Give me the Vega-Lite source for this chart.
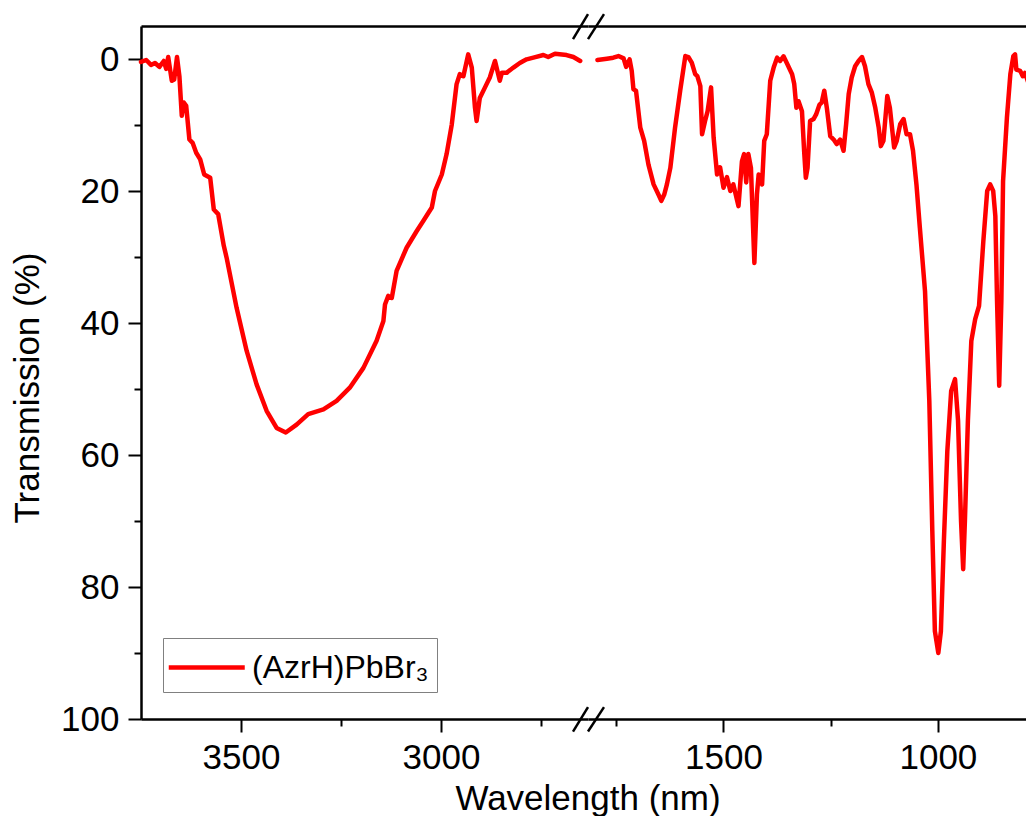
{
  "$schema": "https://vega.github.io/schema/vega-lite/v6.json",
  "background": "white",
  "padding": {"left": 10, "top": 12, "right": 0, "bottom": 0},
  "spacing": 0,
  "bounds": "flush",
  "config": {
    "view": {"stroke": null},
    "font": "Liberation Sans",
    "axis": {
      "domainColor": "black", "domainWidth": 2.5, "tickColor": "black", "tickWidth": 2,
      "labelColor": "black", "titleColor": "black", "labelFont": "Liberation Sans", "titleFont": "Liberation Sans",
      "labelFontSize": 35, "titleFontSize": 35, "titleFontWeight": "normal", "grid": false
    },
    "legend": {
      "labelFont": "Liberation Sans", "labelFontSize": 32, "labelColor": "black", "labelLimit": 500
    }
  },
  "datasets": {
    "L": [
      {"w": 3750, "T": 0.45}, {"w": 3737, "T": 0.15}, {"w": 3725, "T": 0.9}, {"w": 3715, "T": 0.6},
      {"w": 3704, "T": 1.2}, {"w": 3693, "T": 0.3}, {"w": 3687, "T": 1.5}, {"w": 3682, "T": -0.3},
      {"w": 3673, "T": 3.3}, {"w": 3667, "T": 3.1}, {"w": 3660, "T": -0.3}, {"w": 3654, "T": 2.6},
      {"w": 3648, "T": 8.6}, {"w": 3643, "T": 6.6}, {"w": 3637, "T": 7.1}, {"w": 3629, "T": 12.2},
      {"w": 3621, "T": 12.7}, {"w": 3612, "T": 14.2}, {"w": 3602, "T": 15.2}, {"w": 3592, "T": 17.5},
      {"w": 3577, "T": 18.0}, {"w": 3568, "T": 22.8}, {"w": 3557, "T": 23.5}, {"w": 3543, "T": 28.3},
      {"w": 3536, "T": 30.1}, {"w": 3511, "T": 37.7}, {"w": 3486, "T": 44.2}, {"w": 3461, "T": 49.3},
      {"w": 3436, "T": 53.3}, {"w": 3411, "T": 55.9}, {"w": 3388, "T": 56.6}, {"w": 3361, "T": 55.4},
      {"w": 3332, "T": 53.8}, {"w": 3294, "T": 53.1}, {"w": 3261, "T": 51.8}, {"w": 3228, "T": 49.8},
      {"w": 3194, "T": 46.8}, {"w": 3161, "T": 42.7}, {"w": 3144, "T": 39.7}, {"w": 3140, "T": 37.2},
      {"w": 3132, "T": 35.9}, {"w": 3123, "T": 36.2}, {"w": 3111, "T": 32.1}, {"w": 3086, "T": 28.6},
      {"w": 3061, "T": 26.1}, {"w": 3044, "T": 24.5}, {"w": 3023, "T": 22.5}, {"w": 3015, "T": 20.0},
      {"w": 2998, "T": 17.5}, {"w": 2986, "T": 14.4}, {"w": 2973, "T": 9.9}, {"w": 2961, "T": 3.8},
      {"w": 2953, "T": 2.3}, {"w": 2944, "T": 2.6}, {"w": 2932, "T": -0.7}, {"w": 2923, "T": 1.3},
      {"w": 2915, "T": 7.4}, {"w": 2911, "T": 9.4}, {"w": 2903, "T": 5.9}, {"w": 2890, "T": 4.3},
      {"w": 2878, "T": 2.8}, {"w": 2865, "T": 0.3}, {"w": 2853, "T": 3.3}, {"w": 2848, "T": 2.1},
      {"w": 2836, "T": 2.1}, {"w": 2819, "T": 1.3}, {"w": 2803, "T": 0.6}, {"w": 2786, "T": 0.05},
      {"w": 2769, "T": -0.2}, {"w": 2744, "T": -0.6}, {"w": 2732, "T": -0.3}, {"w": 2715, "T": -0.8},
      {"w": 2686, "T": -0.6}, {"w": 2669, "T": -0.3}, {"w": 2652, "T": 0.3}
    ],
    "R": [
      {"w": 1794, "T": 0.15}, {"w": 1772, "T": -0.05}, {"w": 1757, "T": -0.2}, {"w": 1745, "T": -0.45},
      {"w": 1733, "T": -0.1}, {"w": 1727, "T": 1.2}, {"w": 1719, "T": 0.05}, {"w": 1714, "T": 1.8},
      {"w": 1710, "T": 4.6}, {"w": 1704, "T": 4.8}, {"w": 1694, "T": 10.4}, {"w": 1685, "T": 12.4},
      {"w": 1675, "T": 16.0}, {"w": 1663, "T": 19.0}, {"w": 1652, "T": 20.5}, {"w": 1645, "T": 21.5},
      {"w": 1638, "T": 20.5}, {"w": 1632, "T": 19.0}, {"w": 1624, "T": 16.5}, {"w": 1613, "T": 10.4},
      {"w": 1601, "T": 4.8}, {"w": 1589, "T": -0.45}, {"w": 1582, "T": -0.3}, {"w": 1574, "T": 0.55},
      {"w": 1566, "T": 2.3}, {"w": 1561, "T": 2.6}, {"w": 1554, "T": 4.1}, {"w": 1550, "T": 11.4},
      {"w": 1543, "T": 9.4}, {"w": 1537, "T": 7.9}, {"w": 1529, "T": 4.3}, {"w": 1523, "T": 11.9},
      {"w": 1515, "T": 17.5}, {"w": 1508, "T": 16.4}, {"w": 1500, "T": 19.5}, {"w": 1492, "T": 17.9},
      {"w": 1484, "T": 20.0}, {"w": 1477, "T": 19.0}, {"w": 1465, "T": 22.3}, {"w": 1457, "T": 15.5},
      {"w": 1452, "T": 14.4}, {"w": 1447, "T": 18.7}, {"w": 1442, "T": 14.4}, {"w": 1436, "T": 16.5},
      {"w": 1428, "T": 30.9}, {"w": 1422, "T": 20.5}, {"w": 1418, "T": 17.5}, {"w": 1410, "T": 19.0},
      {"w": 1405, "T": 12.4}, {"w": 1399, "T": 11.4}, {"w": 1391, "T": 3.3}, {"w": 1383, "T": 1.3},
      {"w": 1375, "T": -0.2}, {"w": 1368, "T": 0.3}, {"w": 1360, "T": -0.4}, {"w": 1351, "T": 0.8},
      {"w": 1340, "T": 2.3}, {"w": 1335, "T": 3.8}, {"w": 1330, "T": 7.4}, {"w": 1325, "T": 6.4},
      {"w": 1317, "T": 7.9}, {"w": 1312, "T": 13.9}, {"w": 1308, "T": 18.0}, {"w": 1304, "T": 16.5},
      {"w": 1298, "T": 9.4}, {"w": 1290, "T": 9.1}, {"w": 1284, "T": 8.4}, {"w": 1276, "T": 6.9},
      {"w": 1271, "T": 6.6}, {"w": 1265, "T": 4.8}, {"w": 1259, "T": 7.4}, {"w": 1251, "T": 11.7},
      {"w": 1243, "T": 12.2}, {"w": 1236, "T": 12.9}, {"w": 1228, "T": 12.2}, {"w": 1220, "T": 13.9},
      {"w": 1214, "T": 9.9}, {"w": 1208, "T": 5.3}, {"w": 1201, "T": 2.8}, {"w": 1193, "T": 1.1},
      {"w": 1185, "T": 0.3}, {"w": 1177, "T": -0.3}, {"w": 1170, "T": 1.1}, {"w": 1162, "T": 3.8},
      {"w": 1154, "T": 5.1}, {"w": 1146, "T": 7.4}, {"w": 1138, "T": 10.4}, {"w": 1133, "T": 13.2},
      {"w": 1127, "T": 12.4}, {"w": 1118, "T": 5.6}, {"w": 1112, "T": 7.4}, {"w": 1102, "T": 13.4},
      {"w": 1096, "T": 12.4}, {"w": 1088, "T": 9.9}, {"w": 1080, "T": 9.1}, {"w": 1073, "T": 11.4},
      {"w": 1065, "T": 11.4}, {"w": 1058, "T": 13.9}, {"w": 1050, "T": 19.0}, {"w": 1042, "T": 25.6},
      {"w": 1030, "T": 35.2}, {"w": 1020, "T": 51.8}, {"w": 1013, "T": 71.5}, {"w": 1007, "T": 86.7},
      {"w": 999, "T": 90.0}, {"w": 993, "T": 86.7}, {"w": 986, "T": 73.0}, {"w": 978, "T": 59.4},
      {"w": 969, "T": 50.3}, {"w": 960, "T": 48.5}, {"w": 953, "T": 54.8}, {"w": 946, "T": 70.0},
      {"w": 941, "T": 77.3}, {"w": 937, "T": 70.0}, {"w": 930, "T": 54.8}, {"w": 922, "T": 42.7},
      {"w": 913, "T": 39.4}, {"w": 904, "T": 37.4}, {"w": 894, "T": 27.6}, {"w": 885, "T": 20.0},
      {"w": 878, "T": 19.0}, {"w": 871, "T": 20.0}, {"w": 866, "T": 23.8}, {"w": 862, "T": 36.7},
      {"w": 857, "T": 49.5}, {"w": 852, "T": 36.7}, {"w": 848, "T": 18.5}, {"w": 839, "T": 8.9},
      {"w": 831, "T": 2.3}, {"w": 824, "T": -0.45}, {"w": 820, "T": -0.7}, {"w": 817, "T": 1.6},
      {"w": 808, "T": 1.8}, {"w": 802, "T": 2.6}, {"w": 797, "T": 2.1}, {"w": 789, "T": 3.6}
    ]
  },
  "hconcat": [
    {
      "width": 447,
      "height": 693,
      "resolve": {"axis": {"x": "independent", "y": "independent"}},
      "layer": [
        {
          "data": {"name": "L"},
          "mark": {"type": "line", "strokeWidth": 4.5, "strokeJoin": "round", "strokeCap": "round"},
          "encoding": {
            "x": {
              "field": "w", "type": "quantitative",
              "scale": {"domain": [2632.5, 3750], "reverse": true, "nice": false, "zero": false},
              "axis": {
                "orient": "bottom", "values": [3500, 3250, 3000, 2750], "format": "d",
                "labelExpr": "datum.value % 500 === 0 ? datum.label : ''",
                "tickSize": {"condition": {"test": "datum.value % 500 === 0", "value": 13}, "value": 7},
                "labelPadding": 8, "labelFlush": false, "labelOverlap": false,
                "title": "Wavelength (nm)", "titleX": 446.5, "titleY": 90,
                "titleAlign": "center", "titleBaseline": "alphabetic"
              }
            },
            "y": {
              "field": "T", "type": "quantitative",
              "scale": {"domain": [-5, 100], "reverse": true, "nice": false, "zero": false},
              "axis": {
                "orient": "left",
                "values": [0, 10, 20, 30, 40, 50, 60, 70, 80, 90, 100], "format": "d",
                "labelExpr": "datum.value % 20 === 0 ? datum.label : ''",
                "tickSize": {"condition": {"test": "datum.value % 20 === 0", "value": 13}, "value": 7},
                "labelPadding": 9, "labelFlush": false, "labelOverlap": false,
                "title": "Transmission (%)", "titleX": -103, "titleY": 361.5,
                "titleAlign": "center", "titleBaseline": "alphabetic", "titleAngle": -90
              }
            },
            "color": {
              "datum": "(AzrH)PbBr₃", "type": "nominal",
              "scale": {"range": ["#ff0000"]},
              "legend": {
                "orient": "none", "legendX": 22, "legendY": 612, "title": null,
                "symbolType": "M-1.25,0H2.75", "symbolSize": 1444, "symbolStrokeWidth": 4.5,
                "strokeColor": "#808080", "fillColor": "white", "padding": 8, "labelOffset": 38
              }
            }
          }
        },
        {
          "data": {"values": [{}]},
          "mark": {"type": "point", "opacity": 0},
          "encoding": {
            "x": {"datum": 3000, "axis": {"orient": "top", "labels": false, "ticks": false, "title": null, "domain": true}},
            "y": {"datum": 0, "axis": null}
          }
        },
        {
          "data": {"values": [{}]},
          "mark": {"type": "rule", "strokeWidth": 2.5, "color": "black"},
          "encoding": {
            "x": {"datum": 2670, "axis": null}, "x2": {"datum": 2632.5},
            "y": {"datum": -3.0, "axis": null}, "y2": {"datum": -6.8}
          }
        },
        {
          "data": {"values": [{}]},
          "mark": {"type": "rule", "strokeWidth": 2.5, "color": "black"},
          "encoding": {
            "x": {"datum": 2632.5, "axis": null}, "x2": {"datum": 2592.5},
            "y": {"datum": -3.0, "axis": null}, "y2": {"datum": -6.8}
          }
        },
        {
          "data": {"values": [{}]},
          "mark": {"type": "rule", "strokeWidth": 2.5, "color": "black"},
          "encoding": {
            "x": {"datum": 2670, "axis": null}, "x2": {"datum": 2632.5},
            "y": {"datum": 101.9, "axis": null}, "y2": {"datum": 98.2}
          }
        },
        {
          "data": {"values": [{}]},
          "mark": {"type": "rule", "strokeWidth": 2.5, "color": "black"},
          "encoding": {
            "x": {"datum": 2632.5, "axis": null}, "x2": {"datum": 2592.5},
            "y": {"datum": 101.9, "axis": null}, "y2": {"datum": 98.2}
          }
        }
      ]
    },
    {
      "width": 438,
      "height": 693,
      "resolve": {"axis": {"x": "independent", "y": "independent"}},
      "layer": [
        {
          "data": {"name": "R"},
          "mark": {"type": "line", "strokeWidth": 4.5, "strokeJoin": "round", "strokeCap": "round", "clip": true},
          "encoding": {
            "x": {
              "field": "w", "type": "quantitative",
              "scale": {"domain": [794.5, 1816], "reverse": true, "nice": false, "zero": false},
              "axis": {
                "orient": "bottom", "values": [1750, 1500, 1250, 1000], "format": "d",
                "labelExpr": "datum.value % 500 === 0 ? datum.label : ''",
                "tickSize": {"condition": {"test": "datum.value % 500 === 0", "value": 13}, "value": 7},
                "labelPadding": 8, "labelFlush": false, "labelOverlap": false, "title": null
              }
            },
            "y": {
              "field": "T", "type": "quantitative",
              "scale": {"domain": [-5, 100], "reverse": true, "nice": false, "zero": false},
              "axis": null
            },
            "color": {"datum": "(AzrH)PbBr₃", "type": "nominal"}
          }
        },
        {
          "data": {"values": [{}]},
          "mark": {"type": "point", "opacity": 0},
          "encoding": {
            "x": {"datum": 1500, "axis": {"orient": "top", "labels": false, "ticks": false, "title": null, "domain": true}},
            "y": {"datum": 0, "axis": null}
          }
        }
      ]
    }
  ]
}
